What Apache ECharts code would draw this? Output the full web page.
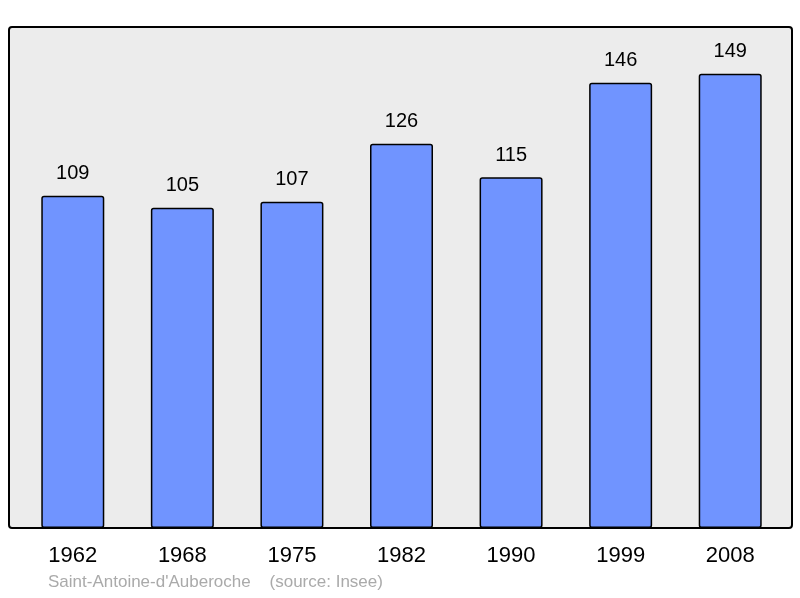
<!DOCTYPE html>
<html>
<head>
<meta charset="utf-8">
<script src="https://cdn.jsdelivr.net/npm/echarts@6/dist/echarts.min.js"></script>
<style>body{margin:0;background:#fff}#chart{width:800px;height:598px}</style>
</head>
<body>
<div id="chart"></div>
<script>
const years = ["1962", "1968", "1975", "1982", "1990", "1999", "2008"];
const population = [109, 105, 107, 126, 115, 146, 149];

const chart = echarts.init(document.getElementById("chart"));
chart.setOption({
  animation: false,
  grid: { left: 18, right: 15, top: 27, bottom: 70 },
  graphic: [
    {
      type: "rect",
      z: -10,
      shape: { x: 9, y: 27, width: 783, height: 501, r: 3 },
      style: { fill: "#ececec", stroke: "#000", lineWidth: 2 }
    },
    {
      type: "text",
      left: 48,
      top: 574,
      style: { text: "Saint-Antoine-d'Auberoche    (source: Insee)", fill: "#aaaaaa", font: "17px 'Liberation Sans', Arial, sans-serif" }
    }
  ],
  xAxis: {
    type: "category",
    data: years,
    axisLine: { show: false },
    axisTick: { show: false },
    axisLabel: { color: "#000", fontSize: 22, margin: 17, fontFamily: "Liberation Sans" }
  },
  yAxis: {
    type: "value",
    min: 0,
    max: 164.3,
    show: false,
    splitLine: { show: false }
  },
  series: [{
    type: "bar",
    data: population,
    barWidth: 63,
    itemStyle: { color: "#7094ff", borderColor: "#000", borderWidth: 1.5, borderRadius: 2 },
    label: { show: true, position: "top", distance: 12, color: "#000", fontSize: 20, fontFamily: "Liberation Sans" }
  }]
});
</script>
</body>
</html>
